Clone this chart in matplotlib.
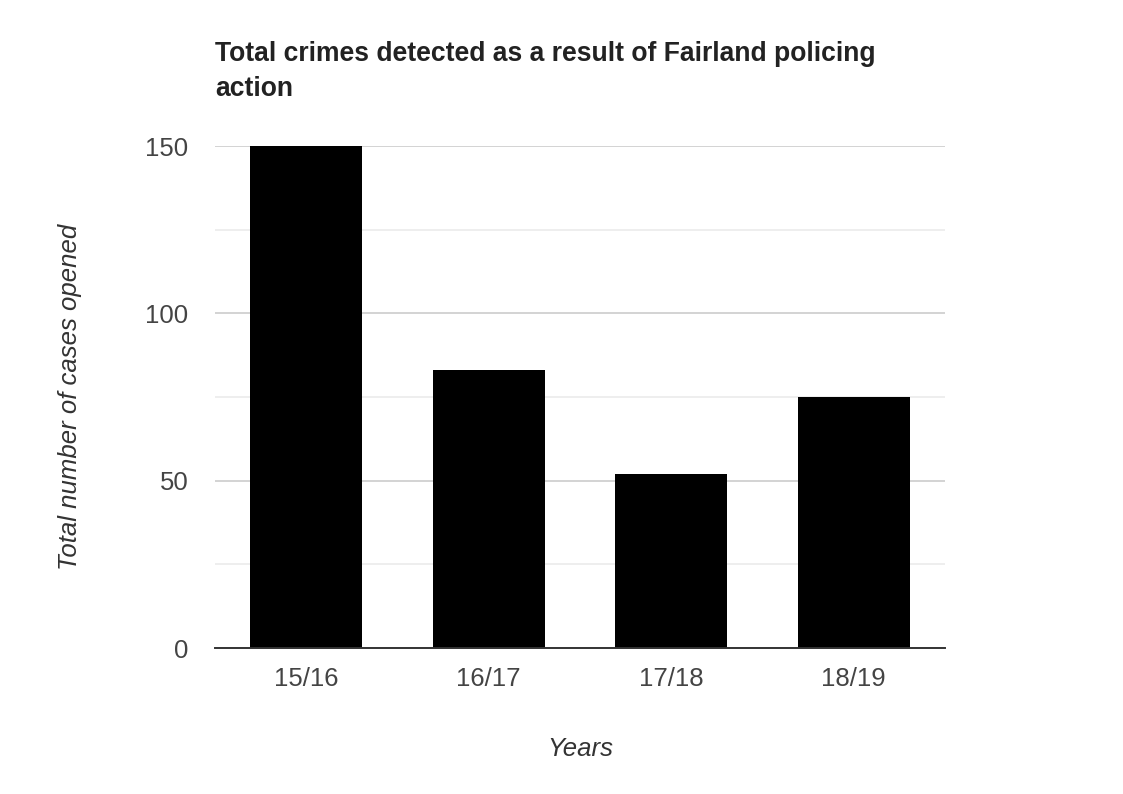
import matplotlib.pyplot as plt
from matplotlib.ticker import MultipleLocator

# daten
jahre = ['15/16', '16/17', '17/18', '18/19']
faelle = [150, 83, 52, 75]

titel = 'Total crimes detected as a result of Fairland policing\naction'
x_titel = 'Years'
y_titel = 'Total number of cases opened'

plt.rcParams['font.family'] = ['Liberation Sans', 'DejaVu Sans']

fig = plt.figure(figsize=(11.23, 7.94), dpi=100)
ax = fig.add_axes([215/1123, 1 - 648/794, 730/1123, 502/794])

pos = range(len(jahre))
ax.bar(pos, faelle, width=0.615, color='black', zorder=3)

ax.set_xlim(-0.5, len(jahre) - 0.5)
ax.set_ylim(0, 150)
ax.yaxis.set_major_locator(MultipleLocator(50))
ax.yaxis.set_minor_locator(MultipleLocator(25))
ax.grid(axis='y', which='major', color='#cccccc', linewidth=1.2, zorder=0)
ax.grid(axis='y', which='minor', color='#ebebeb', linewidth=1.2, zorder=0)

for s in ['top', 'right', 'left']:
    ax.spines[s].set_visible(False)
ax.spines['bottom'].set_color('#333333')
ax.spines['bottom'].set_linewidth(1.4)
ax.spines['bottom'].set_zorder(4)

ax.set_xticks(list(pos))
ax.set_xticklabels(jahre)
ax.tick_params(axis='both', which='both', length=0, labelsize=18.5, colors='#444444')
ax.tick_params(axis='y', pad=19)
ax.tick_params(axis='x', pad=14)

ax.set_xlabel(x_titel, fontsize=18.5, style='italic', color='#333333', labelpad=33)
ax.set_ylabel(y_titel, fontsize=18.5, style='italic', color='#333333', labelpad=46)

fig.text(215/1123, 1 - 41/794, titel, fontsize=19.1, fontweight='bold',
         color='#222222', ha='left', va='top', linespacing=1.45)

fig.savefig('out.png', dpi=100, facecolor='white')
